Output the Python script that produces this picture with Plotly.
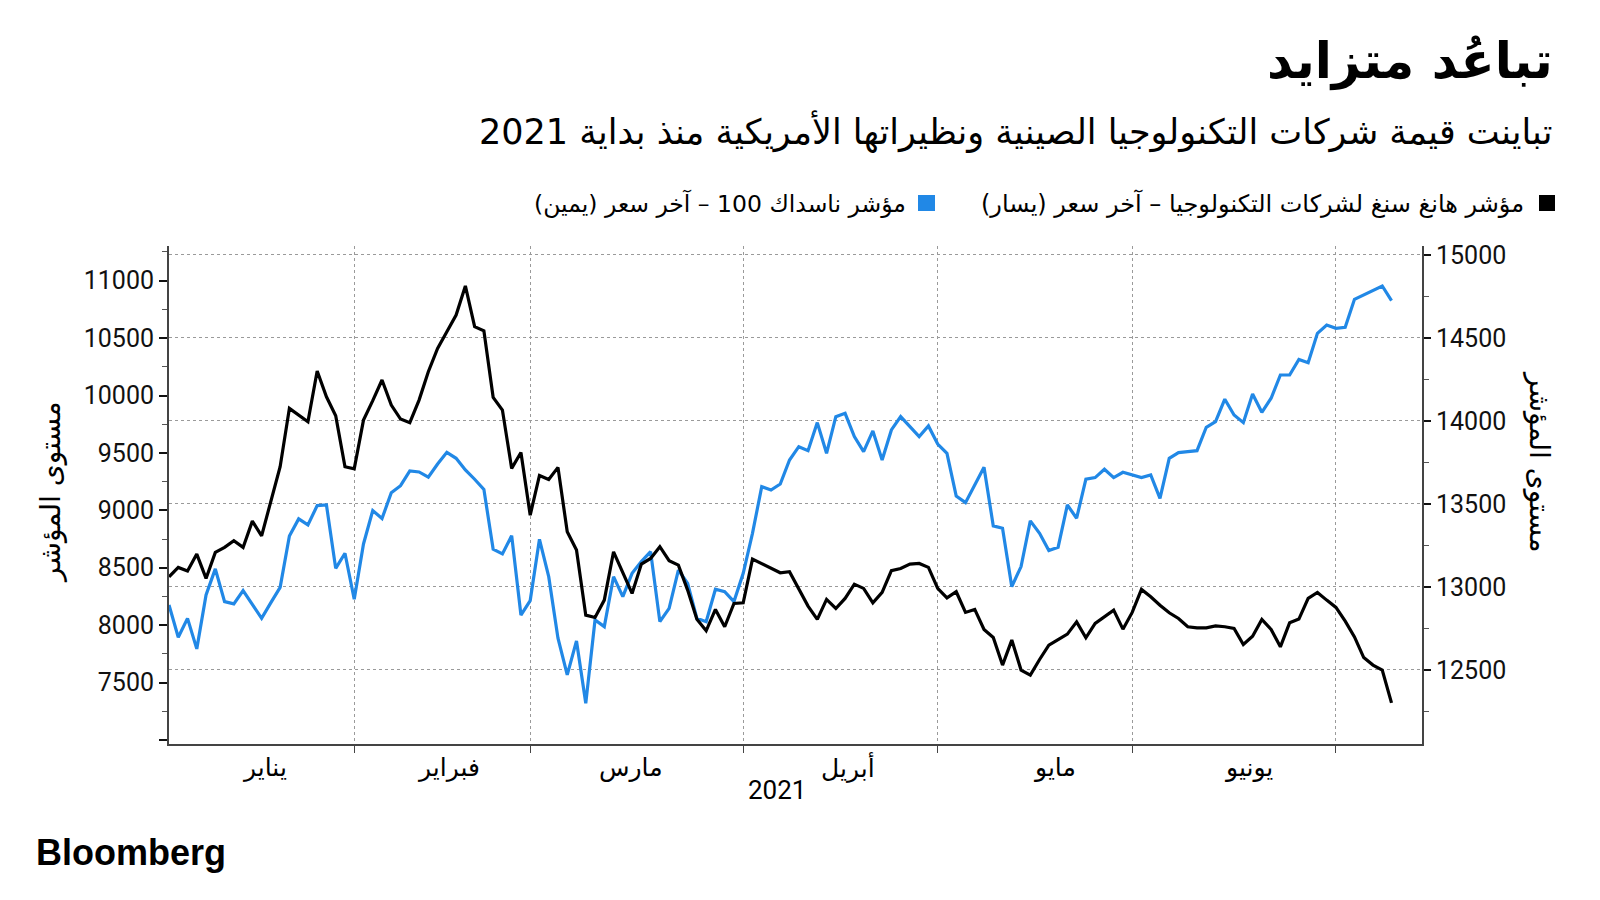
import pandas as pd
import plotly.graph_objects as go

# ---------------- data ----------------
holidays = ["2021-02-15", "2021-04-02"]  # days with no trading in either market
dates = [d for d in pd.bdate_range("2021-01-04", "2021-07-09")
         if d.strftime("%Y-%m-%d") not in holidays]

hstech = [8421, 8503, 8471, 8619, 8407, 8633, 8677, 8735, 8677, 8906, 8778, 9089, 9380, 9888,
          9830, 9772, 10213, 9989, 9824, 9380, 9362, 9786, 9955,
          10135, 9917, 9795, 9763, 9960, 10207, 10410, 10556, 10701, 10954, 10599, 10564, 9984,
          9873, 9365, 9504, 8958, 9304, 9269, 9374, 8813, 8654,
          8087, 8067, 8218, 8639, 8456, 8276, 8532, 8581, 8683, 8561, 8523, 8305, 8052, 7951,
          8137, 7986, 8189, 8195, 8575, 8537, 8494, 8456, 8465,
          8311, 8166, 8050, 8224, 8145, 8233, 8357, 8320, 8195, 8285, 8474, 8494, 8532, 8537,
          8503, 8320, 8238, 8291, 8111, 8137, 7962, 7893, 7652,
          7870, 7609, 7565, 7701, 7826, 7875, 7922, 8029, 7890, 8015, 8073, 8131, 7965, 8111,
          8311, 8247, 8174, 8108, 8058, 7986, 7977, 7977, 7994,
          7986, 7971, 7832, 7904, 8050, 7962, 7811, 8021, 8053, 8233, 8285, 8218, 8154, 8035,
          7898, 7718, 7652, 7609, 7323]

ndx = [12892, 12697, 12811, 12627, 12952, 13109, 12912, 12898, 12978, 12898, 12811, 12906, 12998,
       13307, 13410, 13374, 13490, 13494, 13112, 13203, 12926, 13259, 13460,
       13412, 13568, 13610, 13699, 13693, 13661, 13741, 13811, 13775, 13705, 13649, 13588, 13227,
       13199, 13309, 12831, 12918, 13287, 13062, 12691, 12470, 12675,
       12299, 12801, 12761, 13062, 12942, 13082, 13153, 13213, 12791, 12871, 13102, 13022, 12811,
       12791, 12986, 12972, 12912, 13082, 13323, 13604, 13584, 13620, 13765,
       13845, 13821, 13990, 13805, 14026, 14046, 13906, 13815, 13940, 13765, 13946, 14026, 13966,
       13906, 13970, 13861, 13805, 13548, 13508, 13614, 13721, 13368, 13354,
       13002, 13123, 13398, 13323, 13219, 13239, 13494, 13414, 13649, 13659, 13709, 13659, 13691,
       13675, 13659, 13675, 13534, 13775, 13809, 13815, 13821, 13962, 13996,
       14131, 14036, 13990, 14163, 14052, 14137, 14277, 14277, 14371, 14351, 14528, 14578, 14558,
       14564, 14733, 14759, 14789, 14813, 14725]

month_names = ["يناير", "فبراير", "مارس", "أبريل", "مايو", "يونيو"]
month_label_dates = ["2021-01-18 07:00", "2021-02-16 05:00", "2021-03-15 22:00",
                     "2021-04-19 07:00", "2021-05-19 14:00", "2021-06-17 14:00"]
month_starts = ["2021-02-01", "2021-03-01", "2021-04-01", "2021-05-03", "2021-06-01", "2021-07-01"]

left_ticks = list(range(7000, 11001, 500))
left_tick_text = [""] + [str(v) for v in left_ticks[1:]]
right_ticks = list(range(12500, 15001, 500))
right_tick_text = [str(v) for v in right_ticks]

title = "تباعُد متزايد"
subtitle = "تباينت قيمة شركات التكنولوجيا الصينية ونظيراتها الأمريكية منذ بداية 2021"
legend_black = "مؤشر هانغ سنغ لشركات التكنولوجيا – آخر سعر (يسار)"
legend_blue = "مؤشر ناسداك 100 – آخر سعر (يمين)"
axis_title = "مستوى المؤشر"

BLACK = "#000000"
BLUE = "#2188E6"
RLM = "\u200F"
FONT = "Roboto, DejaVu Sans, sans-serif"
AR_FONT = "DejaVu Sans, sans-serif"

# ---------------- layout geometry ----------------
W, H = 1600, 900
L, R, T, B = 169, 1422, 246, 744


def px(xp):
    return (xp - L) / (R - L)


def py(yp):
    return (B - yp) / (B - T)


fig = go.Figure()

fig.add_trace(go.Scatter(x=dates, y=ndx, mode="lines", yaxis="y",
                         line=dict(color=BLUE, width=3.2), name=legend_blue,
                         showlegend=False))
fig.add_trace(go.Scatter(x=dates, y=hstech, mode="lines", yaxis="y2",
                         line=dict(color=BLACK, width=3.2), name=legend_black,
                         showlegend=False))

axis_line = "#444444"

fig.update_layout(
    width=W, height=H,
    paper_bgcolor="white", plot_bgcolor="white",
    margin=dict(l=L, r=W - R, t=T, b=H - B),
    font=dict(family=FONT, color="#000"),
    xaxis=dict(
        type="date",
        range=["2021-01-04", "2021-07-14 07:00"],
        rangebreaks=[dict(bounds=["sat", "mon"]), dict(values=holidays)],
        tickmode="array", tickvals=month_starts, ticktext=[""] * len(month_starts),
        ticks="outside", ticklen=7, tickwidth=1, tickcolor=axis_line,
        showgrid=True, gridcolor="#9a9a9a", griddash="dot", gridwidth=1,
        showline=True, linecolor=axis_line, linewidth=2,
        zeroline=False, fixedrange=True,
    ),
    yaxis=dict(
        side="right",
        range=[12054, 15054],
        tickmode="array", tickvals=right_ticks, ticktext=right_tick_text,
        ticks="outside", ticklen=7, tickwidth=2, tickcolor="#111",
        minor=dict(dtick=250, tick0=12000, ticks="outside", ticklen=5, tickcolor="#555",
                   tickwidth=1, showgrid=False),
        showgrid=True, gridcolor="#9a9a9a", griddash="dot", gridwidth=1,
        showline=True, linecolor=axis_line, linewidth=2,
        tickfont=dict(size=25, family=FONT, color="#111"),
        zeroline=False,
    ),
    yaxis2=dict(
        side="left", overlaying="y",
        range=[6965, 11302],
        tickmode="array", tickvals=left_ticks, ticktext=left_tick_text,
        ticks="outside", ticklen=8, tickwidth=2, tickcolor="#111",
        minor=dict(dtick=250, tick0=7000, ticks="outside", ticklen=5, tickcolor="#555",
                   tickwidth=1, showgrid=False),
        showgrid=False,
        showline=True, linecolor=axis_line, linewidth=2,
        tickfont=dict(size=25, family=FONT, color="#111"),
        zeroline=False,
    ),
    hovermode=False,
)

annotations = []

# title & subtitle
annotations.append(dict(xref="paper", yref="paper", x=px(1555), y=py(61),
                        xanchor="right", yanchor="middle", showarrow=False,
                        text="<b>" + RLM + title + RLM + "</b>",
                        font=dict(size=50, family=AR_FONT, color="#000")))
annotations.append(dict(xref="paper", yref="paper", x=px(1554), y=py(131),
                        xanchor="right", yanchor="middle", showarrow=False,
                        text=RLM + subtitle + RLM,
                        font=dict(size=35, family=AR_FONT, color="#000")))

# legend texts
annotations.append(dict(xref="paper", yref="paper", x=px(1526), y=py(203),
                        xanchor="right", yanchor="middle", showarrow=False,
                        text=RLM + legend_black + RLM,
                        font=dict(size=24, family=AR_FONT, color="#000")))
annotations.append(dict(xref="paper", yref="paper", x=px(908), y=py(203),
                        xanchor="right", yanchor="middle", showarrow=False,
                        text=RLM + legend_blue + RLM,
                        font=dict(size=23.5, family=AR_FONT, color="#000")))

# axis titles
annotations.append(dict(xref="paper", yref="paper", x=px(50), y=py(492),
                        xanchor="center", yanchor="middle", showarrow=False,
                        textangle=-90, text=RLM + axis_title + RLM,
                        font=dict(size=28, family=AR_FONT, color="#000")))
annotations.append(dict(xref="paper", yref="paper", x=px(1540), y=py(462),
                        xanchor="center", yanchor="middle", showarrow=False,
                        textangle=90, text=RLM + axis_title + RLM,
                        font=dict(size=28, family=AR_FONT, color="#000")))

# month labels
for name, d in zip(month_names, month_label_dates):
    annotations.append(dict(xref="x", yref="paper", x=d, y=py(767),
                            xanchor="center", yanchor="middle", showarrow=False,
                            text=RLM + name + RLM,
                            font=dict(size=25, family=AR_FONT, color="#000")))

# year label
annotations.append(dict(xref="paper", yref="paper", x=px(777), y=py(790),
                        xanchor="center", yanchor="middle", showarrow=False,
                        text="2021", font=dict(size=26, family=FONT, color="#000")))

# Bloomberg logo text
annotations.append(dict(xref="paper", yref="paper", x=px(34), y=py(852),
                        xanchor="left", yanchor="middle", showarrow=False,
                        text="<b>Bloomberg</b>",
                        font=dict(size=36, family="Liberation Sans, Arial, sans-serif",
                                  color="#000")))

fig.update_layout(annotations=annotations)

# legend squares
fig.add_shape(type="rect", xref="paper", yref="paper",
              x0=px(1539), x1=px(1555), y0=py(195), y1=py(211),
              fillcolor=BLACK, line=dict(width=0))
fig.add_shape(type="rect", xref="paper", yref="paper",
              x0=px(918), x1=px(935), y0=py(195), y1=py(211),
              fillcolor=BLUE, line=dict(width=0))

fig.write_html("out.html", config={"displayModeBar": False},
               post_script="document.body.style.margin='0';")
